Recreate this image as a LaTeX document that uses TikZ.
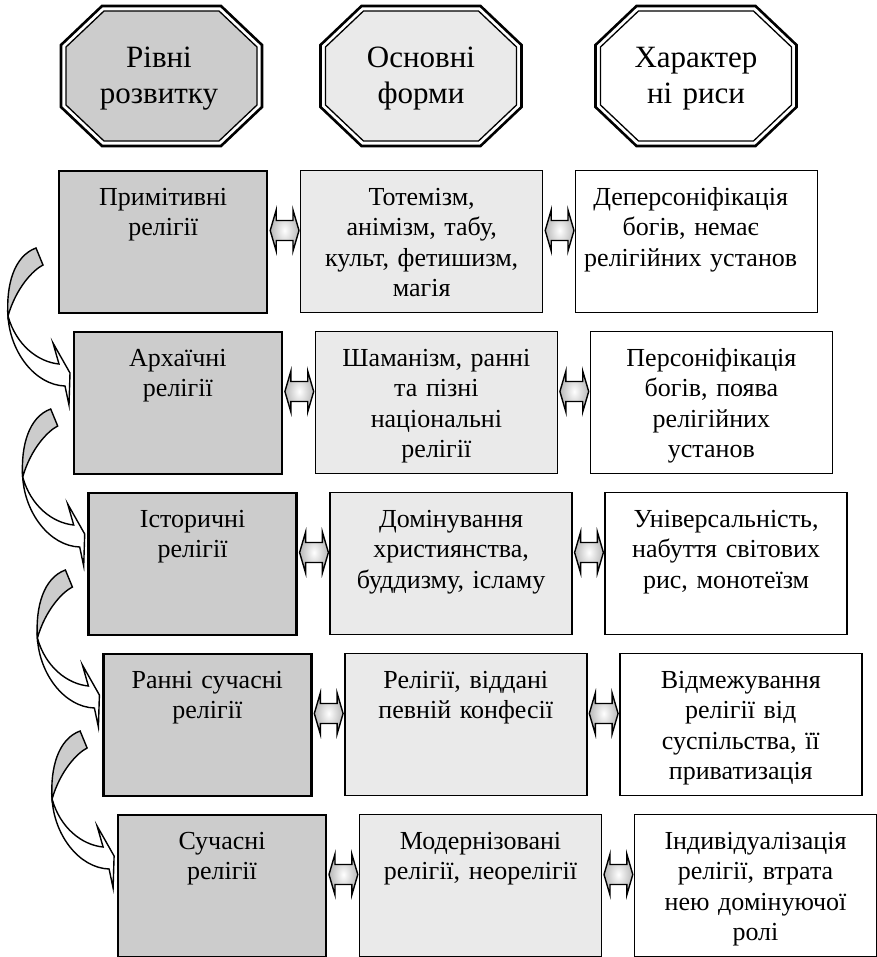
\documentclass[tikz,border=0pt]{standalone}
\usepackage{fontspec}
\setmainfont{Liberation Serif}
\usetikzlibrary{calc}
\definecolor{lvl}{HTML}{CCCCCC}
\definecolor{frm}{HTML}{EAEAEA}
\tikzset{
  lbox/.style={draw, line width=2.4bp, fill=lvl, minimum width=208bp, minimum height=142bp, anchor=north west, inner sep=0pt},
  mbox/.style={draw, line width=1.4bp, fill=frm, minimum width=242bp, minimum height=142bp, anchor=north west, inner sep=0pt},
  rbox/.style={draw, line width=1.4bp, fill=white, minimum width=242bp, minimum height=142bp, anchor=north west, inner sep=0pt},
  txt/.style={font=\fontsize{26bp}{30.5bp}\selectfont, align=center, text width=236bp, inner sep=0pt, anchor=north},
  otxt/.style={font=\fontsize{31bp}{36bp}\selectfont, align=center, text width=190bp, inner sep=0pt, anchor=north},
  dar/.style={draw, line width=1.4bp, shading=radial, inner color=white, outer color=black!28},
  carr/.style={draw, line width=1.4bp}
}
\newcommand\octagonshape[2]{%
  \begin{scope}[shift={(#1,76)}]
    \draw[line width=2.6bp, fill=white] (-59.5,-70) -- (59.5,-70) -- (100.5,-31) -- (100.5,31) -- (59.5,70) -- (-59.5,70) -- (-100.5,31) -- (-100.5,-31) -- cycle;
    \draw[line width=1.3bp, fill=#2] (-57.5,-65) -- (57.5,-65) -- (95.5,-29) -- (95.5,29) -- (57.5,65) -- (-57.5,65) -- (-95.5,29) -- (-95.5,-29) -- cycle;
  \end{scope}}
\newcommand\dblarr[2]{%
  \path ($(#1.north east)+(1.8,60.5)$) coordinate (dP) ($(#2.north west)+(-1,60.5)$) coordinate (dQ);
  \draw[dar] (dP) -- ++(6,-20.5) -- ++(0,10.5) -- ($(dQ)+(-6,-10)$) -- ++(0,-10.5) -- (dQ) -- ++(-6,20.5) -- ++(0,-10.5) -- ($(dP)+(6,10)$) -- ++(0,10.5) -- cycle;}
\newcommand\curvarr[1]{%
  \begin{scope}[shift={(#1.north west)}]
    \draw[carr, fill=lvl] (-22,78) .. controls (-44,86) and (-52,115) .. (-50,146) .. controls (-42,118) and (-25,100) .. (-15,95) -- cycle;
    \draw[carr, fill=white] (-50,146) .. controls (-48,182) and (-23,215) .. (7,216) -- (11,235) -- (12,203) -- (-5,173) -- (1,194) .. controls (-20,192) and (-42,175) .. (-50,146) -- cycle;
  \end{scope}}
\begin{document}
\begin{tikzpicture}[x=1bp,y=-1bp]
\fill[white] (0,0) rectangle (877,957);
\useasboundingbox (0,0) rectangle (877,957);

% header octagons
\octagonshape{161.5}{lvl}
\octagonshape{421}{frm}
\octagonshape{696}{white}
\node[otxt] (O1t) at (159,41.8) {\strut Рівні\\розвитку};
\node[otxt] (O2t) at (421,41.8) {\strut Основні\\форми};
\node[otxt] (O3t) at (696,41.8) {\strut Характер\\ні риси};

% boxes
\node[lbox] (L1) at (58,170) {};
\node[mbox] (M1) at (300,170) {};
\node[rbox] (R1) at (575,170) {};
\node[lbox] (L2) at (72.7,331) {};
\node[mbox] (M2) at (314.7,331) {};
\node[rbox] (R2) at (589.7,331) {};
\node[lbox] (L3) at (87.4,492) {};
\node[mbox] (M3) at (329.4,492) {};
\node[rbox] (R3) at (604.4,492) {};
\node[lbox] (L4) at (102.1,653) {};
\node[mbox] (M4) at (344.1,653) {};
\node[rbox] (R4) at (619.1,653) {};
\node[lbox] (L5) at (116.8,814) {};
\node[mbox] (M5) at (358.8,814) {};
\node[rbox] (R5) at (633.8,814) {};

% texts
\node[txt] (L1t) at ($(L1.north)+(0,13.65)$) {\strut Примітивні\\релігії};
\node[txt] (M1t) at ($(M1.north)+(0,13.65)$) {\strut Тотемізм,\\анімізм, табу,\\культ, фетишизм,\\магія};
\node[txt] (R1t) at ($(R1.north)+(-6,13.65)$) {\strut Деперсоніфікація\\богів, немає\\релігійних установ};
\node[txt] (L2t) at ($(L2.north)+(0,13.65)$) {\strut Архаїчні\\релігії};
\node[txt] (M2t) at ($(M2.north)+(0,13.65)$) {\strut Шаманізм, ранні\\та пізні\\національні\\релігії};
\node[txt] (R2t) at ($(R2.north)+(0,13.65)$) {\strut Персоніфікація\\богів, поява\\релігійних\\установ};
\node[txt] (L3t) at ($(L3.north)+(0,13.65)$) {\strut Історичні\\релігії};
\node[txt] (M3t) at ($(M3.north)+(0,13.65)$) {\strut Домінування\\християнства,\\буддизму, ісламу};
\node[txt] (R3t) at ($(R3.north)+(0,13.65)$) {\strut Універсальність,\\набуття світових\\рис, монотеїзм};
\node[txt] (L4t) at ($(L4.north)+(0,13.65)$) {\strut Ранні сучасні\\релігії};
\node[txt] (M4t) at ($(M4.north)+(0,13.65)$) {\strut Релігії, віддані\\певній конфесії};
\node[txt] (R4t) at ($(R4.north)+(0,13.65)$) {\strut Відмежування\\релігії від\\суспільства, її\\приватизація};
\node[txt] (L5t) at ($(L5.north)+(0,13.65)$) {\strut Сучасні\\релігії};
\node[txt] (M5t) at ($(M5.north)+(0,13.65)$) {\strut Модернізовані\\релігії, неорелігії};
\node[txt] (R5t) at ($(R5.north)+(0,13.65)$) {\strut Індивідуалізація\\релігії, втрата\\нею домінуючої\\ролі};

% double arrows
\dblarr{L1}{M1}\dblarr{M1}{R1}
\dblarr{L2}{M2}\dblarr{M2}{R2}
\dblarr{L3}{M3}\dblarr{M3}{R3}
\dblarr{L4}{M4}\dblarr{M4}{R4}
\dblarr{L5}{M5}\dblarr{M5}{R5}

% curved arrows
\curvarr{L1}
\curvarr{L2}
\curvarr{L3}
\curvarr{L4}
\end{tikzpicture}
\end{document}
